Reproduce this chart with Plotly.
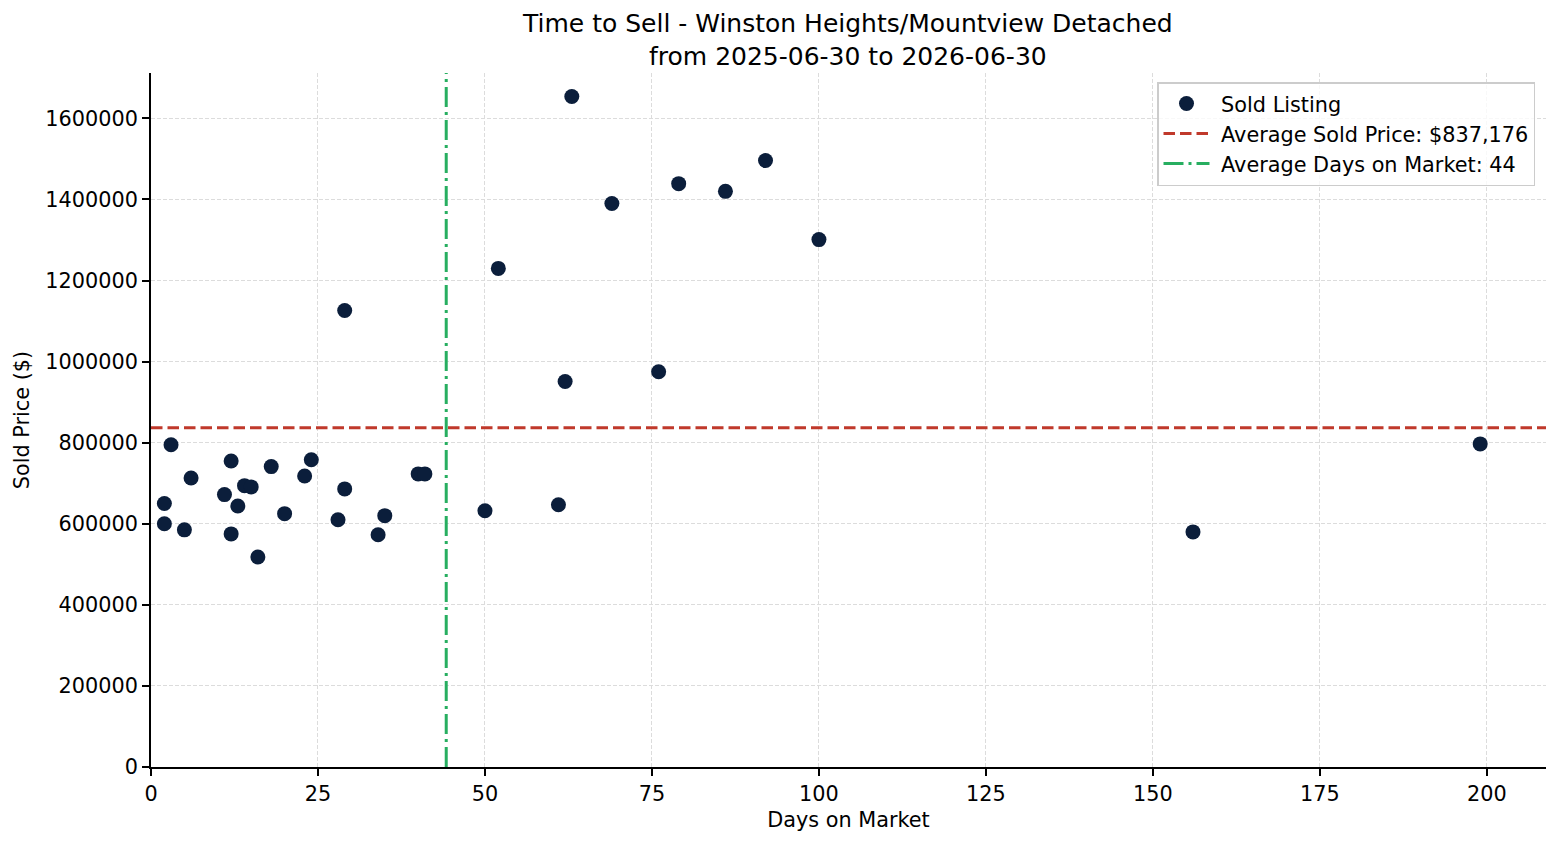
import plotly.graph_objects as go

# Data
days_on_market = [2, 2, 3, 5, 6, 11, 12, 12, 13, 14, 15, 16, 18, 20, 23, 24, 28, 29, 29,
                  34, 35, 40, 41, 50, 52, 61, 62, 63, 69, 76, 79, 86, 92, 100, 156, 199]
sold_price = [650000, 600000, 795000, 585000, 713000, 672000, 755000, 575000, 644000,
              694000, 691000, 518000, 741000, 625000, 718000, 758000, 610000, 1126000,
              686000, 573000, 620000, 723000, 723000, 632000, 1230000, 647000, 951000,
              1654000, 1390000, 975000, 1439000, 1420000, 1496000, 1301000, 580000, 797000]

avg_price = 837176
avg_days = 44.2
series_labels = ["Sold Listing", "Average Sold Price: $837,176", "Average Days on Market: 44"]

title_lines = ["Time to Sell - Winston Heights/Mountview Detached",
               "from 2025-06-30 to 2026-06-30"]

x_range = [0, 208.85]
y_range = [0, 1712000]
x_ticks = [0, 25, 50, 75, 100, 125, 150, 175, 200]
y_ticks = [0, 200000, 400000, 600000, 800000, 1000000, 1200000, 1400000, 1600000]

FONT = "DejaVu Sans"
PAD = "\u00a0"
fig = go.Figure()

fig.add_trace(go.Scatter(
    x=days_on_market, y=sold_price, mode="markers", name=PAD + series_labels[0],
    marker=dict(color="#0b1e3b", size=15, line=dict(width=0)),
    legendgroup="a", legendrank=1,
))
fig.add_trace(go.Scatter(
    x=x_range, y=[avg_price, avg_price], mode="lines", name=PAD + series_labels[1],
    line=dict(color="#c0392b", width=3, dash="11.5px,5px"),
    legendgroup="b", legendrank=2,
))
fig.add_trace(go.Scatter(
    x=[avg_days, avg_days], y=y_range, mode="lines", name=PAD + series_labels[2],
    line=dict(color="#27ae60", width=3, dash="20px,5px,3px,5px"),
    legendgroup="c", legendrank=3,
))

axis_common = dict(
    showline=True, linecolor="black", linewidth=1.7, mirror=False,
    ticks="outside", ticklen=7, tickwidth=1.7, tickcolor="black",
    showgrid=True, gridcolor="#dcdcdc", gridwidth=0.8, griddash="4px,2px",
    zeroline=False, tickfont=dict(family=FONT, size=20.8, color="black"),
)

fig.update_xaxes(
    range=x_range, tickvals=x_ticks, ticktext=[str(t) for t in x_ticks],
    title=dict(text="Days on Market", font=dict(family=FONT, size=20.8, color="black"), standoff=8),
    **axis_common,
)
fig.update_yaxes(
    range=y_range, tickvals=y_ticks, ticktext=[str(t) for t in y_ticks],
    title=dict(text="Sold Price ($)", font=dict(family=FONT, size=20.8, color="black"), standoff=10),
    **axis_common,
)

fig.update_layout(
    width=1560, height=845,
    margin=dict(l=151, r=14, t=73, b=78),
    paper_bgcolor="white", plot_bgcolor="white",
    font=dict(family=FONT, color="black"),
    title=dict(text="<br>".join(title_lines), x=0.5435, xanchor="center",
               yref="container", y=1 - 32 / 845, yanchor="top",
               font=dict(family=FONT, size=25, color="black")),
    legend=dict(x=1 - 11 / 1395, xanchor="right", y=1 - 9 / 694, yanchor="top",
                bgcolor="rgba(255,255,255,0.8)", bordercolor="#cccccc", borderwidth=1.5,
                font=dict(family=FONT, size=20.8, color="black"),
                tracegroupgap=0, traceorder="grouped", itemwidth=46),
    showlegend=True,
)

fig.write_html("out.html")
